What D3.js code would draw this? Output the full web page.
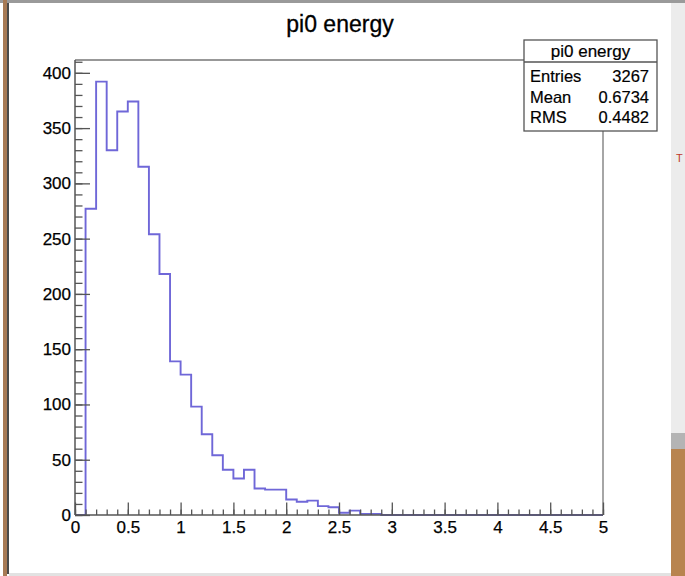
<!DOCTYPE html>
<html>
<head>
<meta charset="utf-8">
<script src="https://cdn.jsdelivr.net/npm/d3@7"></script>
<style>
  body { margin: 0; background: #fff; }
  text { font-family: "Liberation Sans", Arial, Helvetica, sans-serif; }
</style>
</head>
<body>
<div id="graph"></div>
<script>
// histogram data: 50 bins of 0.1 from 0 to 5
const binLow = 0
const binWidth = 0.1
const counts = [
    0, 277, 392, 330, 365, 374, 315, 254, 218, 139,
    127, 98, 73, 54, 41, 33, 41, 24, 23, 23,
    14, 12, 13, 8, 7, 2, 4, 1, 1, 0,
    0, 0, 0, 0, 0, 0, 0, 0, 0, 0,
    0, 0, 0, 0, 0, 0, 0, 0, 0, 0
]
const xTicks = [0, 0.5, 1, 1.5, 2, 2.5, 3, 3.5, 4, 4.5, 5]
const yTicks = [0, 50, 100, 150, 200, 250, 300, 350, 400]
const statLabels = ["Entries", "Mean", "RMS"]
const statValues = ["3267", "0.6734", "0.4482"]
const title = "pi0 energy"

const W = 685, H = 576
const frame = {left: 75, right: 603, top: 60, bottom: 515}

const svg = d3.select("#graph")
    .append("svg")
    .attr("width", W)
    .attr("height", H)

// window chrome around the canvas
svg.append("rect").attr("x", 0).attr("y", 0).attr("width", W).attr("height", H).attr("fill", "#ffffff")
svg.append("rect").attr("x", 0).attr("y", 0).attr("width", W).attr("height", 3).attr("fill", "#9a9a9a")
svg.append("rect").attr("x", 3).attr("y", 0).attr("width", 4).attr("height", H).attr("fill", "#a77a55")
svg.append("rect").attr("x", 7).attr("y", 3).attr("width", 2).attr("height", 571).attr("fill", "#4a4a4a")
svg.append("rect").attr("x", 671).attr("y", 3).attr("width", 14).attr("height", 430).attr("fill", "#ececec")
svg.append("rect").attr("x", 671).attr("y", 433).attr("width", 14).attr("height", 16).attr("fill", "#b4b4b4")
svg.append("rect").attr("x", 671).attr("y", 449).attr("width", 14).attr("height", 127).attr("fill", "#b8844f")
svg.append("rect").attr("x", 9).attr("y", 573).attr("width", 662).attr("height", 3).attr("fill", "#e2e2e2")
svg.append("text")
    .attr("x", 676).attr("y", 162)
    .attr("font-size", 11)
    .attr("fill", "#c0392b")
    .text("T")

// scales
const x = d3.scaleLinear().domain([0, 5]).range([frame.left, frame.right])
const y = d3.scaleLinear().domain([0, 392 * 1.05]).range([frame.bottom, frame.top])

// title
svg.append("text")
    .attr("x", 340).attr("y", 32)
    .attr("text-anchor", "middle")
    .attr("font-size", 23)
    .attr("fill", "#000")
    .attr("stroke", "#000").attr("stroke-width", 0.3)
    .text(title)

// histogram outline
const pts = [[binLow, 0]]
counts.forEach((c, i) => {
    const lo = binLow + i * binWidth
    pts.push([lo, c])
    pts.push([lo + binWidth, c])
})
pts.push([5, 0])

svg.append("path")
    .datum(pts)
    .attr("fill", "none")
    .attr("stroke", "#6f67d8")
    .attr("stroke-width", 1.9)
    .attr("d", d3.line().x(d => x(d[0])).y(d => y(d[1])))

// frame top / right
svg.append("path")
    .attr("d", `M${frame.left},${frame.top}H${frame.right}V${frame.bottom}`)
    .attr("fill", "none")
    .attr("stroke", "#777")
    .attr("stroke-width", 1.3)

// minor ticks
const yMinor = d3.range(0, 411, 10)
const xMinor = d3.range(0, 51).map(i => i / 10)

svg.append("g")
    .attr("transform", `translate(${frame.left},0)`)
    .call(d3.axisLeft(y).tickValues(yMinor).tickSizeInner(-7.5).tickSizeOuter(0).tickFormat(""))
    .call(g => g.select(".domain").remove())
    .call(g => g.selectAll("line").attr("stroke", "#555").attr("stroke-width", 1.3))

svg.append("g")
    .attr("transform", `translate(0,${frame.bottom})`)
    .call(d3.axisBottom(x).tickValues(xMinor).tickSizeInner(-5.5).tickSizeOuter(0).tickFormat(""))
    .call(g => g.select(".domain").remove())
    .call(g => g.selectAll("line").attr("stroke", "#555").attr("stroke-width", 1.3))

// major axes
const yAxis = svg.append("g")
    .attr("transform", `translate(${frame.left},0)`)
    .call(d3.axisLeft(y).tickValues(yTicks).tickSizeInner(-15).tickSizeOuter(0).tickPadding(4))
yAxis.select(".domain").attr("stroke", "#555").attr("stroke-width", 1.5)
    .attr("d", `M0,${frame.bottom}V${frame.top}`)
yAxis.selectAll("line").attr("stroke", "#555").attr("stroke-width", 1.3)
yAxis.selectAll("text").attr("font-size", 17).attr("fill", "#000")
    .attr("stroke", "#000").attr("stroke-width", 0.25)
    .attr("font-family", "'Liberation Sans', Arial, sans-serif")

const xAxis = svg.append("g")
    .attr("transform", `translate(0,${frame.bottom})`)
    .call(d3.axisBottom(x).tickValues(xTicks).tickSizeInner(-12.5).tickSizeOuter(0).tickPadding(6)
        .tickFormat(d => d3.format("")(d)))
xAxis.select(".domain").attr("stroke", "#555").attr("stroke-width", 1.5)
    .attr("d", `M${frame.left},0H${frame.right}`)
xAxis.selectAll("line").attr("stroke", "#555").attr("stroke-width", 1.3)
xAxis.selectAll("text").attr("font-size", 17).attr("fill", "#000")
    .attr("stroke", "#000").attr("stroke-width", 0.25)
    .attr("font-family", "'Liberation Sans', Arial, sans-serif")

// stats box
const box = {x: 524, y: 40, w: 133, h: 91}
const stats = svg.append("g")
stats.append("rect")
    .attr("x", box.x).attr("y", box.y)
    .attr("width", box.w).attr("height", box.h)
    .attr("fill", "#fff")
    .attr("stroke", "#555")
    .attr("stroke-width", 1.3)
stats.append("line")
    .attr("x1", box.x).attr("x2", box.x + box.w)
    .attr("y1", 62).attr("y2", 62)
    .attr("stroke", "#555")
    .attr("stroke-width", 1.3)
stats.append("text")
    .attr("x", box.x + box.w / 2).attr("y", 57)
    .attr("text-anchor", "middle")
    .attr("font-size", 17)
    .attr("stroke", "#000").attr("stroke-width", 0.2)
    .text(title)

const rowY = [82, 103, 123]
stats.selectAll("text.lab")
    .data(statLabels)
    .join("text")
    .attr("class", "lab")
    .attr("x", 530).attr("y", (d, i) => rowY[i])
    .attr("font-size", 16.5)
    .attr("stroke", "#000").attr("stroke-width", 0.2)
    .text(d => d)
stats.selectAll("text.val")
    .data(statValues)
    .join("text")
    .attr("class", "val")
    .attr("x", 649).attr("y", (d, i) => rowY[i])
    .attr("text-anchor", "end")
    .attr("font-size", 16.5)
    .attr("stroke", "#000").attr("stroke-width", 0.2)
    .text(d => d)
</script>
</body>
</html>
